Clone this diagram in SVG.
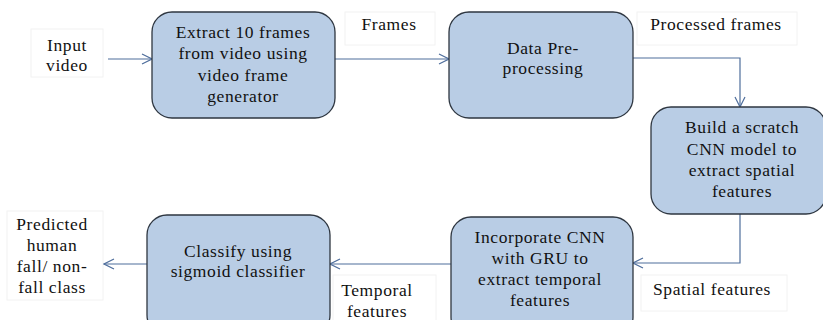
<svg xmlns="http://www.w3.org/2000/svg" width="823" height="320" viewBox="0 0 823 320">
  <style>
    .step { fill: #b9cde5; stroke: #2e3640; stroke-width: 1.3; }
    .tag { fill: #ffffff; stroke: #f2f2f2; stroke-width: 1; }
    text { font-family: "Liberation Serif", "Times New Roman", serif; font-size: 17.5px; letter-spacing: 0.6px; fill: #111; text-anchor: middle; }
    .link { fill: none; stroke: #4f6e9c; stroke-width: 1.2; marker-end: url(#chev); }
  </style>
  <defs>
    <marker id="chev" viewBox="0 0 12 12" refX="11" refY="6" markerWidth="12" markerHeight="12" markerUnits="userSpaceOnUse" orient="auto">
      <path d="M1,1 L11,6 L1,11" fill="none" stroke="#4f6e9c" stroke-width="1.2"/>
    </marker>
  </defs>
  <rect width="823" height="320" fill="#ffffff"/>

  <!-- edge labels -->
  <g id="lbl-input">
    <rect class="tag" x="31" y="29" width="72" height="48"/>
    <text x="67" y="51">Input</text>
    <text x="67" y="71">video</text>
  </g>
  <g id="lbl-frames">
    <rect class="tag" x="345" y="12" width="90" height="33"/>
    <text x="389" y="30">Frames</text>
  </g>
  <g id="lbl-processed">
    <rect class="tag" x="637" y="12" width="160" height="33"/>
    <text x="716" y="30">Processed frames</text>
  </g>
  <g id="lbl-spatial">
    <rect class="tag" x="641" y="275" width="146" height="36"/>
    <text x="712" y="295">Spatial features</text>
  </g>
  <g id="lbl-temporal">
    <rect class="tag" x="333" y="275" width="103" height="50"/>
    <text x="377" y="296">Temporal</text>
    <text x="377" y="317">features</text>
  </g>
  <g id="lbl-output">
    <rect class="tag" x="7" y="211" width="96" height="89"/>
    <text x="52" y="230">Predicted</text>
    <text x="52" y="251">human</text>
    <text x="52" y="272">fall/ non-</text>
    <text x="52" y="293">fall class</text>
  </g>

  <!-- connectors -->
  <g id="connectors">
    <path class="link" d="M108,59 H152"/>
    <path class="link" d="M335,59 H449"/>
    <path class="link" d="M633,58 H740 V107"/>
    <path class="link" d="M740,214 V263 H633"/>
    <path class="link" d="M451,264 H330"/>
    <path class="link" d="M147,264 H104"/>
  </g>

  <!-- process steps -->
  <g id="step-extract">
    <rect class="step" x="152" y="12" width="183" height="106" rx="20"/>
    <text x="243" y="38">Extract 10 frames</text>
    <text x="243" y="59">from video using</text>
    <text x="243" y="81">video frame</text>
    <text x="243" y="102">generator</text>
  </g>
  <g id="step-preprocess">
    <rect class="step" x="449" y="12" width="184" height="106" rx="20"/>
    <text x="543" y="54">Data Pre-</text>
    <text x="543" y="74">processing</text>
  </g>
  <g id="step-cnn">
    <rect class="step" x="651" y="107" width="175" height="107" rx="20"/>
    <text x="742" y="133">Build a scratch</text>
    <text x="742" y="155">CNN model to</text>
    <text x="742" y="176">extract spatial</text>
    <text x="742" y="197">features</text>
  </g>
  <g id="step-gru">
    <rect class="step" x="451" y="217" width="182" height="120" rx="20"/>
    <text x="540" y="243">Incorporate CNN</text>
    <text x="540" y="264">with GRU to</text>
    <text x="540" y="285">extract temporal</text>
    <text x="540" y="306">features</text>
  </g>
  <g id="step-classify">
    <rect class="step" x="147" y="215" width="183" height="120" rx="20"/>
    <text x="238" y="257">Classify using</text>
    <text x="238" y="277">sigmoid classifier</text>
  </g>
</svg>
